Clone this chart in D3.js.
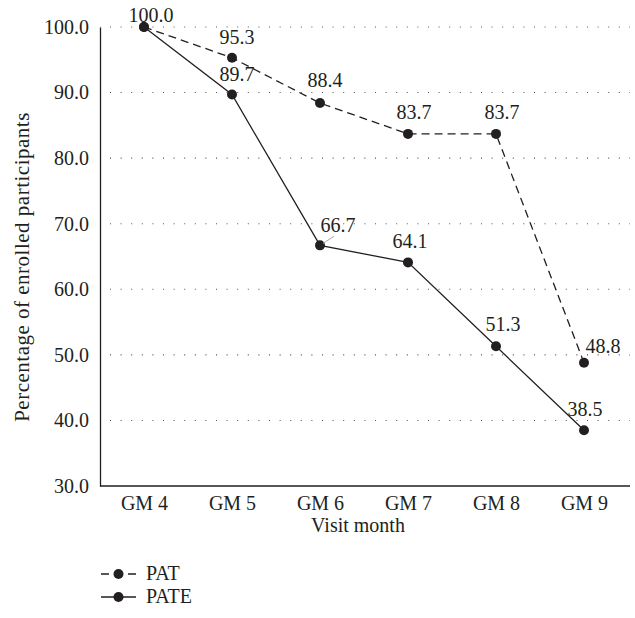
<!DOCTYPE html>
<html><head><meta charset="utf-8">
<script src="https://cdn.jsdelivr.net/npm/d3@7"></script>
<style>
body{margin:0;background:#fff;}
#c text{font-family:'Liberation Serif' !important;}
</style></head>
<body><svg id="c" width="635" height="618"></svg>
<script>
const categories = ["GM 4","GM 5","GM 6","GM 7","GM 8","GM 9"];
const patValues  = [100.0, 95.3, 88.4, 83.7, 83.7, 48.8];
const pateValues = [100.0, 89.7, 66.7, 64.1, 51.3, 38.5];
const yTicks = [30,40,50,60,70,80,90,100];
const seriesNames = ["PAT","PATE"];
// label nudges (dx, dy) in px
const patNudge  = [[7,-5],[5,-14],[5,-16],[6,-15],[6,-15],[19,-10]];
const pateNudge = [null,[5,-14],[18,-13],[2,-14],[7,-15],[1,-14]];

const FONT = "'Liberation Serif'";
const FS = 20;
const svg = d3.select("#c");
const ink = "#231f20";
const x = d3.scalePoint().domain(categories).range([100,628]).padding(0.5);
const y = d3.scaleLinear().domain([30,100]).range([486,27]);

// grid
svg.append("g").selectAll("line").data(yTicks.filter(d=>d>30)).join("line")
  .attr("x1",100).attr("x2",630).attr("y1",d=>y(d)).attr("y2",d=>y(d))
  .attr("stroke","#555").attr("stroke-width",1.1).attr("stroke-dasharray","1,9.6").attr("stroke-dashoffset",-10);

// axes
const yAxis = svg.append("g").attr("transform","translate(100,0)")
  .call(d3.axisLeft(y).tickValues(yTicks).tickFormat(d3.format(".1f")).tickSize(0).tickPadding(11));
yAxis.select(".domain").attr("stroke",ink).attr("stroke-width",1.3);
yAxis.selectAll("text").attr("dy","0.32em");
const xAxis = svg.append("g").attr("transform","translate(0,486)")
  .call(d3.axisBottom(x).tickSize(0).tickPadding(10));
xAxis.select(".domain").attr("stroke",ink).attr("stroke-width",1.3).attr("d","M100,0H630");
svg.selectAll("g").attr("font-family",FONT).attr("font-size",FS);

// axis titles
svg.append("text").attr("class","ytitle").attr("transform","translate(29,267) rotate(-90)").attr("text-anchor","middle")
  .text("Percentage of enrolled participants");
svg.append("text").attr("x",358).attr("y",532).attr("text-anchor","middle").text("Visit month");

const line = d3.line().x((d,i)=>x(categories[i])).y(d=>y(d));
svg.append("path").datum(patValues).attr("d",line).attr("fill","none").attr("stroke",ink)
  .attr("stroke-width",1.3).attr("stroke-dasharray","8,5");
svg.append("path").datum(pateValues).attr("d",line).attr("fill","none").attr("stroke",ink).attr("stroke-width",1.3);

function dots(vals){
  svg.append("g").selectAll("circle").data(vals).join("circle")
    .attr("cx",(d,i)=>x(categories[i])).attr("cy",d=>y(d)).attr("r",5).attr("fill",ink);
}
dots(patValues); dots(pateValues);

// leader line for 66.7
svg.append("line").attr("x1",x(categories[2])+3).attr("y1",y(pateValues[2])-2)
  .attr("x2",x(categories[2])+14).attr("y2",y(pateValues[2])-9).attr("stroke","#aaa").attr("stroke-width",1);

function labels(vals,nudge){
  svg.append("g").selectAll("text").data(vals.map((v,i)=>({v,i})).filter(d=>nudge[d.i]))
    .join("text").attr("text-anchor","middle")
    .attr("x",d=>x(categories[d.i])+nudge[d.i][0]).attr("y",d=>y(d.v)+nudge[d.i][1])
    .text(d=>d.v.toFixed(1));
}
labels(patValues,patNudge); labels(pateValues,pateNudge);

// legend
const lg = svg.append("g");
[0,1].forEach(k=>{
  const yy = 574 + k*23;
  lg.append("line").attr("x1",101).attr("x2",136).attr("y1",yy).attr("y2",yy).attr("stroke",ink)
    .attr("stroke-width",1.3).attr("stroke-dasharray",k===0?"8,5.5":null);
  lg.append("circle").attr("cx",118.5).attr("cy",yy).attr("r",5).attr("fill",ink);
  lg.append("text").attr("x",146).attr("y",yy+6).text(seriesNames[k]);
});
svg.selectAll("text").attr("font-family",FONT).attr("font-size",FS).attr("fill",ink);
svg.select(".ytitle").attr("font-size",21).attr("letter-spacing",0.5);
</script></body></html>
